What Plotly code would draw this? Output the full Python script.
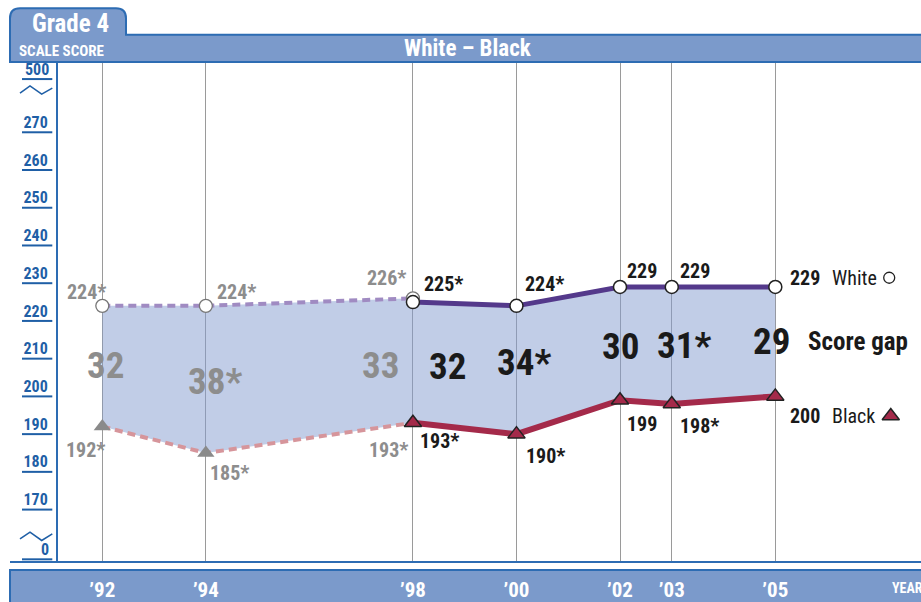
import plotly.graph_objects as go

# ---------------- data ----------------
years_np = [1992, 1994, 1998]          # accommodations not permitted
white_np = [224, 224, 226]
black_np = [192, 185, 193]
white_np_lbl = ["224*", "224*", "226*"]
black_np_lbl = ["192*", "185*", "193*"]
gap_np_lbl = ["32", "38*", "33"]

years_p = [1998, 2000, 2002, 2003, 2005]   # accommodations permitted
white_p = [225, 224, 229, 229, 229]
black_p = [193, 190, 199, 198, 200]
white_p_lbl = ["225*", "224*", "229", "229", "229"]
black_p_lbl = ["193*", "190*", "199", "198*", "200"]
gap_p_lbl = ["32", "34*", "30", "31*", "29"]

year_ticks = [1992, 1994, 1998, 2000, 2002, 2003, 2005]
year_text = ["’92", "’94", "’98", "’00", "’02", "’03", "’05"]

y_ticks = [170, 180, 190, 200, 210, 220, 230, 240, 250, 260, 270]
y_text = ["170", "180", "190", "200", "210", "220", "230", "240", "250", "260", "270"]
break_top_text, break_bottom_text = "500", "0"

# ---------------- layout geometry (pixels) ----------------
W, H = 921, 602
L, R, T, B = 58, 921, 63, 565
PW, PH = R - L, B - T
X_RANGE = [1991.144, 2007.814]
Y_RANGE = [156.11, 288.36]
BREAK_TOP_V, BREAK_BOT_V = 284.1, 156.82


def px(x):
    return (x - L) / PW


def py(y):
    return (B - y) / PH


FONT = "Roboto Condensed, Liberation Sans Narrow, Arial Narrow, DejaVu Sans Condensed, Roboto, sans-serif"
BLUE = "#1f5fa6"
LINEBLUE = "#2d6cb3"
BAR = "#7b9acb"
GREY = "#8d8d8d"
DARK = "#1a1a1a"
W_SOLID, W_DASH = "#54398b", "#a08bc2"
B_SOLID, B_DASH = "#a42a4a", "#d6959b"


def font(size, color, bold=True):
    return dict(family=FONT, size=size, color=color,
                weight="bold" if bold else "normal")


fig = go.Figure()

# fill between groups
fx = years_np + years_p + years_p[::-1] + years_np[::-1]
fy = white_np + white_p + black_p[::-1] + black_np[::-1]
fig.add_trace(go.Scatter(x=fx, y=fy, fill="toself", mode="none",
                         fillcolor="rgba(132,156,207,0.5)", hoverinfo="skip"))

# lines
fig.add_trace(go.Scatter(x=years_np, y=white_np, mode="lines",
                         line=dict(color=W_DASH, width=4, dash="8px,5px")))
fig.add_trace(go.Scatter(x=years_np, y=black_np, mode="lines",
                         line=dict(color=B_DASH, width=4, dash="8px,5px")))
fig.add_trace(go.Scatter(x=years_p, y=white_p, mode="lines",
                         line=dict(color=W_SOLID, width=5)))
fig.add_trace(go.Scatter(x=years_p, y=black_p, mode="lines",
                         line=dict(color=B_SOLID, width=6)))

# markers
fig.add_trace(go.Scatter(x=years_np, y=white_np, mode="markers", cliponaxis=False,
                         marker=dict(symbol="circle", size=13, color="white",
                                     line=dict(color="#777777", width=1.3))))
fig.add_trace(go.Scatter(x=years_np, y=black_np, mode="markers", cliponaxis=False,
                         marker=dict(symbol="triangle-up", size=15, color="#8a8a8a",
                                     line=dict(width=0))))
fig.add_trace(go.Scatter(x=years_p, y=white_p, mode="markers", cliponaxis=False,
                         marker=dict(symbol="circle", size=13, color="white",
                                     line=dict(color="#222222", width=1.5))))
fig.add_trace(go.Scatter(x=years_p, y=black_p, mode="markers", cliponaxis=False,
                         marker=dict(symbol="triangle-up", size=15, color=B_SOLID,
                                     line=dict(color="#222222", width=1.5))))

# legend glyphs next to the series names
fig.add_trace(go.Scatter(x=[years_p[-1] + 2.2], y=[white_p[-1] + 2.45], mode="markers",
                         cliponaxis=False,
                         marker=dict(symbol="circle", size=11, color="white",
                                     line=dict(color="#222222", width=1.3))))
fig.add_trace(go.Scatter(x=[years_p[-1] + 2.23], y=[black_p[-1] - 5.2], mode="markers",
                         cliponaxis=False,
                         marker=dict(symbol="triangle-up", size=15, color=B_SOLID,
                                     line=dict(color="#222222", width=1.5))))

ann = []


def lab(x, y, text, color, size, xshift, yshift, xanchor="center", bold=True):
    ann.append(dict(x=x, y=y, xref="x", yref="y", text=text, showarrow=False,
                    xanchor=xanchor, yanchor="middle", xshift=xshift, yshift=yshift,
                    font=font(size, color, bold)))


# point labels: not permitted (grey)
np_w_off = [(-16, 14, "center"), (9, 14, "left"), (-5, 20, "right")]
np_b_off = [(-17, -23, "center"), (2, -20, "left"), (-3, -27, "right")]
for i, yr in enumerate(years_np):
    xs, ys, xa = np_w_off[i]
    lab(yr, white_np[i], white_np_lbl[i], GREY, 20, xs, ys, xa)
    xs, ys, xa = np_b_off[i]
    lab(yr, black_np[i], black_np_lbl[i], GREY, 20, xs, ys, xa)

p_w_off = [(9, 18), (7, 22), (5, 16), (6, 16), (13, 9)]
p_b_off = [(5, -18), (8, -22), (5, -24), (6, -22), (13, -20)]
for i, yr in enumerate(years_p):
    xs, ys = p_w_off[i]
    lab(yr, white_p[i], white_p_lbl[i], DARK, 20, xs, ys, "left")
    xs, ys = p_b_off[i]
    lab(yr, black_p[i], black_p_lbl[i], DARK, 20, xs, ys, "left")

# series names
lab(years_p[-1], white_p[-1], "White", DARK, 20, 55, 9, "left", bold=False)
lab(years_p[-1], black_p[-1], "Black", DARK, 20, 55, -20, "left", bold=False)

# gap labels
gnp_off = [(3, 1, "center"), (9, -2, "center"), (-12, -5, "right")]
for i, yr in enumerate(years_np):
    xs, ys, xa = gnp_off[i]
    lab(yr, (white_np[i] + black_np[i]) / 2, gap_np_lbl[i], GREY, 37, xs, ys, xa)
gp_off = [(14, -4, "left"), (8, 7, "center"), (0, -3, "center"), (12, 0, "center"), (-4, 0, "center")]
for i, yr in enumerate(years_p):
    xs, ys, xa = gp_off[i]
    lab(yr, (white_p[i] + black_p[i]) / 2, gap_p_lbl[i], DARK, 37, xs, ys, xa)
lab(years_p[-1], (white_p[-1] + black_p[-1]) / 2, "Score gap", DARK, 25, 31, 0, "left")

# header / footer texts


def ptext(x, y, text, size, xanchor="center"):
    ann.append(dict(x=px(x), y=py(y), xref="paper", yref="paper", text=text,
                    showarrow=False, xanchor=xanchor, yanchor="middle",
                    font=font(size, "white")))


ptext(70, 23, "Grade 4", 25)
ptext(17, 51, "SCALE SCORE", 15, "left")
ptext(468, 48, "White – Black", 23)
ptext(890, 591, "YEAR", 14, "left")

# broken axis labels
for v, t in [(BREAK_TOP_V, break_top_text), (BREAK_BOT_V, break_bottom_text)]:
    ann.append(dict(x=px(51), y=v, xref="paper", yref="y", text=t, showarrow=False,
                    xanchor="right", yanchor="middle", yshift=10,
                    font=font(16, BLUE)))

shapes = []


def path(points, close=True):
    s = "M " + " L ".join(f"{px(x):.5f},{py(y):.5f}" for x, y in points)
    return s + (" Z" if close else "")


# header tab + bar
hdr = (f"M {px(10):.5f},{py(62):.5f} L {px(10):.5f},{py(18):.5f} "
       f"Q {px(10):.5f},{py(8):.5f} {px(20):.5f},{py(8):.5f} "
       f"L {px(116):.5f},{py(8):.5f} Q {px(126):.5f},{py(8):.5f} {px(126):.5f},{py(18):.5f} "
       f"L {px(126):.5f},{py(34.5):.5f} L {px(925):.5f},{py(34.5):.5f} "
       f"L {px(925):.5f},{py(62):.5f} Z")
shapes.append(dict(type="path", path=hdr, xref="paper", yref="paper",
                   fillcolor=BAR, line=dict(color=LINEBLUE, width=2), layer="below"))
# footer bar
shapes.append(dict(type="rect", xref="paper", yref="paper", x0=px(10), x1=px(930),
                   y0=py(573), y1=py(610), fillcolor=BAR,
                   line=dict(color=LINEBLUE, width=2), layer="below"))
# bottom axis line
shapes.append(dict(type="line", xref="paper", yref="paper", x0=px(10), x1=px(925),
                   y0=py(565), y1=py(565), line=dict(color=LINEBLUE, width=2)))
# tick underlines
for v in y_ticks + [BREAK_TOP_V, BREAK_BOT_V]:
    shapes.append(dict(type="line", xref="paper", yref="y", x0=px(22), x1=px(52.3),
                       y0=v, y1=v, line=dict(color=BLUE, width=2)))
# zigzag break marks
for pts in ([(20, 93.3), (30, 86), (41.7, 94.3), (52.3, 88.3)],
            [(20, 541.7), (30, 535), (41.7, 543.3), (52.3, 536.7)]):
    shapes.append(dict(type="path", xref="paper", yref="paper", path=path(pts, False),
                       line=dict(color=BLUE, width=1.6)))

fig.update_layout(
    width=W, height=H, margin=dict(l=L, r=W - R, t=T, b=H - B),
    paper_bgcolor="white", plot_bgcolor="white", showlegend=False,
    annotations=ann, shapes=shapes,
    xaxis=dict(range=X_RANGE, tickvals=year_ticks, ticktext=year_text,
               showgrid=True, gridcolor="#9a9a9a", gridwidth=1, zeroline=False,
               showline=False, ticks="", ticklabelstandoff=13,
               tickfont=font(21, "white")),
    yaxis=dict(range=Y_RANGE, tickvals=y_ticks, ticktext=y_text, showgrid=False,
               zeroline=False, showline=True, linecolor=LINEBLUE, linewidth=2,
               ticks="", ticklabelshift=-10, ticklabelstandoff=5,
               tickfont=font(16, BLUE)),
)

fig.write_html("out.html", config={"displayModeBar": False},
               post_script="document.body.style.margin='0';")
